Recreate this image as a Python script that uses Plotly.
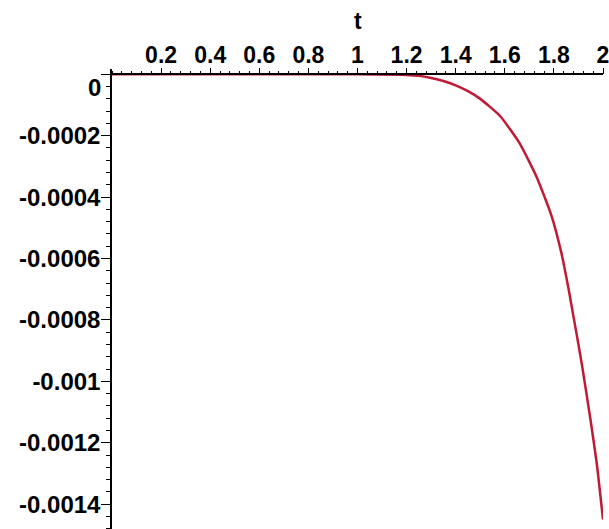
import plotly.graph_objects as go

# Data
t_vals = [0, 0.5, 1.0, 1.2, 1.25, 1.3, 1.35, 1.4, 1.45, 1.5, 1.58, 1.66, 1.73,
          1.79, 1.83, 1.86, 1.88, 1.9, 1.915, 1.95, 1.975, 2.0]
y_vals = [0, 0, 0, -0.000002, -0.000005, -0.000012, -0.000022, -0.000036,
          -0.000055, -0.00008, -0.000135, -0.000224, -0.000335, -0.00046,
          -0.00058, -0.0007, -0.00079, -0.00088, -0.00095, -0.00113, -0.00127, -0.00145]

x_tickvals = [0.2, 0.4, 0.6, 0.8, 1.0, 1.2, 1.4, 1.6, 1.8, 2.0]
x_ticktext = ["0.2", "0.4", "0.6", "0.8", "1", "1.2", "1.4", "1.6", "1.8", "2"]
y_tickvals = [0, -0.0002, -0.0004, -0.0006, -0.0008, -0.001, -0.0012, -0.0014]
y_ticktext = ["", "-0.0002", "-0.0004", "-0.0006", "-0.0008", "-0.001", "-0.0012", "-0.0014"]
x_title = "t"
zero_label = "0"

FONT = "Liberation Sans, Arial, sans-serif"
FS = 23
xtickfont = dict(family=FONT, size=FS, color="black", weight="bold")
ytickfont = dict(family=FONT, size=24, color="black", weight="bold")

W, H = 609, 529
ML, MR, MT, MB = 112, 6, 69, 0
ph = H - MT - MB
pw = W - ML - MR
y_top, y_bot = 0.0000173, -0.001481
y0_frac = (0 - y_bot) / (y_top - y_bot)

fig = go.Figure()
fig.add_trace(go.Scatter(
    x=t_vals, y=y_vals, mode="lines",
    line=dict(color="#c01a34", width=2.5, shape="spline", smoothing=0.5),
    showlegend=False, hoverinfo="skip",
))

fig.update_layout(
    width=W, height=H,
    margin=dict(l=ML, r=MR, t=MT, b=MB, pad=0),
    paper_bgcolor="white", plot_bgcolor="white",
    xaxis=dict(
        range=[0, 2.0], side="top", anchor="free", position=y0_frac,
        showgrid=False, zeroline=False, showline=True, linecolor="black", linewidth=1.5,
        tickmode="array", tickvals=x_tickvals, ticktext=x_ticktext,
        ticks="outside", ticklen=6, tickwidth=1, tickcolor="black",
        minor=dict(dtick=0.04, ticks="outside", ticklen=3, tickcolor="black", tickwidth=1),
        tickfont=xtickfont, automargin=False, ticklabelstandoff=-5,
        ticklabeloverflow="allow",
    ),
    yaxis=dict(
        range=[y_bot, y_top],
        showgrid=False, zeroline=False, showline=True, linecolor="black", linewidth=1.5,
        tickmode="array", tickvals=y_tickvals, ticktext=y_ticktext,
        ticks="outside", ticklen=9, tickwidth=1, tickcolor="black",
        minor=dict(dtick=0.00004, ticks="outside", ticklen=4, tickcolor="black", tickwidth=1),
        tickfont=ytickfont, automargin=False, ticklabelstandoff=-4,
        ticklabeloverflow="allow",
    ),
    annotations=[
        dict(text=x_title, x=1.0, xref="x", y=(H - MB - 21) / ph, yref="paper",
             showarrow=False, xanchor="center", yanchor="middle",
             font=dict(family=FONT, size=FS, color="black", weight="bold")),
        dict(text=zero_label, x=(103 - ML) / pw, xref="paper", y=(H - MB - 87.5) / ph, yref="paper",
             showarrow=False, xanchor="right", yanchor="middle",
             font=dict(family=FONT, size=24, color="black", weight="bold")),
    ],
)

fig.write_html(
    "out.html",
    config={"displayModeBar": False},
    post_script="document.body.style.margin='0';document.body.style.padding='0';document.body.style.overflow='hidden';",
)
